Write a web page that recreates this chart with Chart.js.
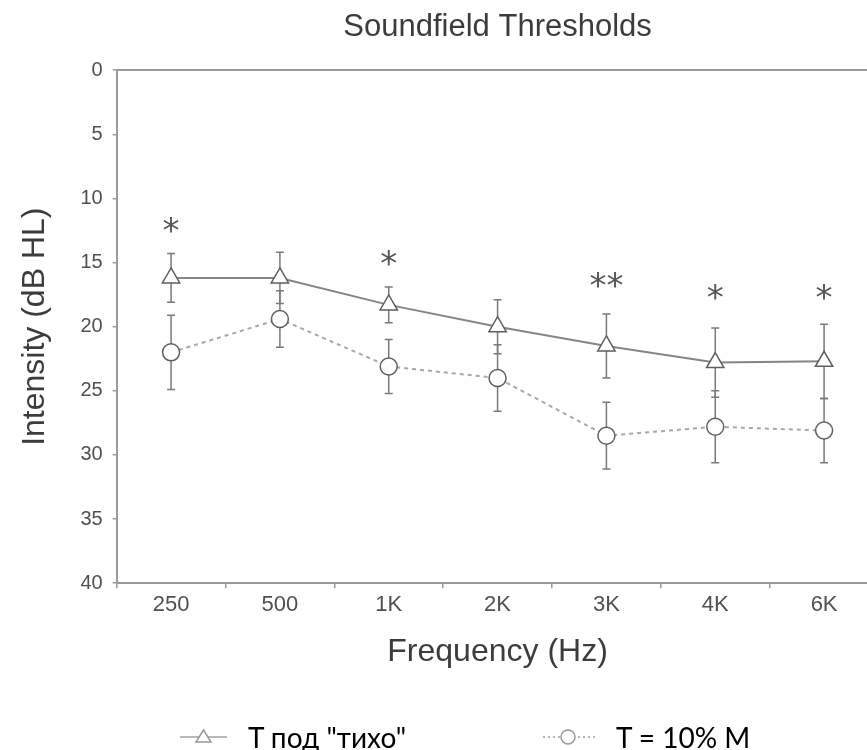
<!DOCTYPE html>
<html>
<head>
<meta charset="utf-8">
<title>Soundfield Thresholds</title>
<script src="https://cdn.jsdelivr.net/npm/chart.js@4"></script>
<style>
  html, body { margin: 0; padding: 0; background: #fff; overflow: hidden; }
  #wrap { position: relative; width: 890px; height: 750px; }
  #legend { position: absolute; left: 0; top: 722px; width: 890px; height: 30px;
            font-family: Lato, "Open Sans", sans-serif; font-size: 28px; line-height: 30px; color: #000; }
  .item { position: absolute; top: 0; display: flex; align-items: center; white-space: pre; }
  .item svg { margin-right: 21px; }
</style>
</head>
<body>
<div id="wrap">
  <canvas id="chart" width="890" height="750"></canvas>
  <div id="legend"></div>
</div>
<script>
/* ============== Data ============== */

const frequencies = ["250", "500", "1K", "2K", "3K", "4K", "6K"];

const quietLabel = 'T под "тихо"';
const quietMeans = [16.2, 16.2, 18.3, 20.0, 21.5, 22.8, 22.7];
const quietErrors = [1.9, 2.0, 1.4, 2.1, 2.5, 2.7, 2.9];

const noiseLabel = "T = 10% M";
const noiseMeans = [22.0, 19.4, 23.1, 24.0, 28.5, 27.8, 28.1];
const noiseErrors = [2.9, 2.2, 2.1, 2.6, 2.6, 2.8, 2.5];

// significance marks above each frequency and the level (dB) they sit at
const sigMarks = ["*", "", "*", "", "**", "*", "*"];
const sigLevels = [11.9, null, 14.5, null, 16.2, 17.2, 17.2];

const FONT = '"Liberation Sans", Arial, sans-serif';
const AXIS_GREY = "#9a9a9a";
const TEXT_GREY = "#505050";

/* ============== Plugins ============== */

/**
 * Draws the +/- error bars of every dataset, behind the lines and markers.
 */
const errorBars = {
    id: "errorBars",
    beforeDatasetsDraw(chart) {
        const {ctx, scales: {x, y}} = chart;
        ctx.save();
        ctx.strokeStyle = "#7a7a7a";
        ctx.lineWidth = 1.5;
        chart.data.datasets.forEach(ds => {
            ds.data.forEach((value, i) => {
                const px = x.getPixelForValue(i);
                const top = y.getPixelForValue(value - ds.errors[i]);
                const bottom = y.getPixelForValue(value + ds.errors[i]);
                ctx.beginPath();
                ctx.moveTo(px, top);
                ctx.lineTo(px, bottom);
                ctx.moveTo(px - 4, top);
                ctx.lineTo(px + 4, top);
                ctx.moveTo(px - 4, bottom);
                ctx.lineTo(px + 4, bottom);
                ctx.stroke();
            });
        });
        ctx.restore();
    }
};

/**
 * Writes the significance asterisks above the points.
 */
const sigStars = {
    id: "sigStars",
    afterDatasetsDraw(chart) {
        const {ctx, scales: {x, y}} = chart;
        const size = 34;
        ctx.save();
        ctx.font = size + 'px "DejaVu Sans", sans-serif';
        ctx.fillStyle = "#555";
        ctx.textAlign = "center";
        ctx.textBaseline = "alphabetic";
        sigMarks.forEach((mark, i) => {
            if (!mark) return;
            const px = x.getPixelForValue(i);
            const py = y.getPixelForValue(sigLevels[i]);
            ctx.fillText(mark, px, py + size * 0.55);
        });
        ctx.restore();
    }
};

/* ============== Chart ============== */

const chart = new Chart(document.getElementById("chart"), {
    type: "line",
    data: {
        labels: frequencies,
        datasets: [
            {
                label: quietLabel,
                data: quietMeans,
                errors: quietErrors,
                borderColor: "#858585",
                borderWidth: 2,
                pointStyle: "triangle",
                pointRadius: 10,
                pointBorderColor: "#5e5e5e",
                pointBackgroundColor: "#fff",
                pointBorderWidth: 1.5,
                tension: 0
            },
            {
                label: noiseLabel,
                data: noiseMeans,
                errors: noiseErrors,
                borderColor: "#a8a8a8",
                borderWidth: 2,
                borderDash: [4, 4],
                pointStyle: "circle",
                pointRadius: 8.5,
                pointBorderColor: "#5e5e5e",
                pointBackgroundColor: "#fff",
                pointBorderWidth: 1.5,
                tension: 0
            }
        ]
    },
    options: {
        responsive: false,
        animation: false,
        layout: {padding: {left: 0, right: 4, top: 9, bottom: 75}},
        plugins: {
            legend: {display: false},
            tooltip: {enabled: false},
            title: {
                display: true,
                text: "Soundfield Thresholds",
                fullSize: false,
                color: "#3c3c3c",
                font: {family: FONT, size: 31, weight: "normal"},
                padding: {top: 0, bottom: 16}
            }
        },
        scales: {
            x: {
                type: "category",
                position: "bottom",
                offset: true,
                grid: {offset: true, drawOnChartArea: false, color: AXIS_GREY, tickLength: 5, lineWidth: 1.5},
                border: {color: AXIS_GREY, width: 2},
                ticks: {color: TEXT_GREY, font: {family: FONT, size: 22}, padding: 4},
                title: {
                    display: true,
                    text: "Frequency (Hz)",
                    color: "#3c3c3c",
                    font: {family: FONT, size: 32},
                    padding: {top: 10, bottom: 4}
                }
            },
            x2: {
                type: "category",
                position: "top",
                offset: true,
                grid: {display: false},
                ticks: {display: false},
                border: {color: AXIS_GREY, width: 2}
            },
            y: {
                reverse: true,
                min: 0,
                max: 40,
                ticks: {stepSize: 5, color: TEXT_GREY, font: {family: FONT, size: 20}, padding: 10},
                grid: {drawOnChartArea: false, color: AXIS_GREY, tickLength: 4, lineWidth: 1.5},
                border: {color: AXIS_GREY, width: 2},
                title: {
                    display: true,
                    text: "Intensity (dB HL)",
                    color: "#3c3c3c",
                    font: {family: FONT, size: 32},
                    padding: {top: 16, bottom: 16}
                }
            }
        }
    },
    plugins: [errorBars, sigStars]
});

/* ============== HTML Legend ============== */

/**
 * Returns the small svg symbol (line + marker) for a dataset.
 */
function legendSymbol(ds) {
    const dash = ds.borderDash ? ' stroke-dasharray="2 3"' : "";
    const marker = ds.pointStyle === "triangle"
        ? '<polygon points="23.5,5 16,17 31,17" fill="#fff" stroke="#9a9a9a" stroke-width="1.5"/>'
        : '<circle cx="25" cy="12" r="7" fill="#fff" stroke="#9a9a9a" stroke-width="1.5"/>';
    return '<svg width="' + (ds.pointStyle === "triangle" ? 47 : 52) + '" height="24">' +
        '<line x1="0" y1="12" x2="52" y2="12" stroke="#a0a0a0" stroke-width="1.5"' + dash + '/>' +
        marker + '</svg>';
}

function buildLegend() {
    const legend = document.getElementById("legend");
    const starts = [180, 543];
    chart.data.datasets.forEach((ds, i) => {
        const item = document.createElement("div");
        item.className = "item";
        item.style.left = starts[i] + "px";
        item.innerHTML = legendSymbol(ds);
        const text = document.createElement("span");
        text.textContent = ds.label;
        item.appendChild(text);
        legend.appendChild(item);
    });
}

buildLegend();
</script>
</body>
</html>
